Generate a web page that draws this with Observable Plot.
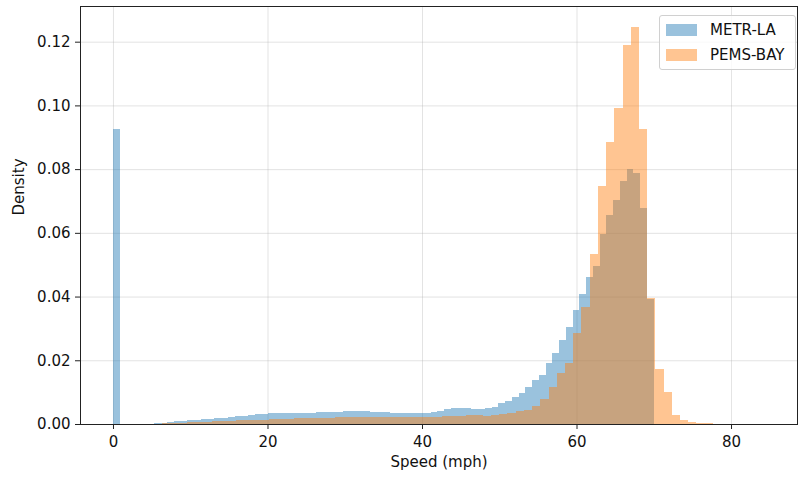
<!DOCTYPE html>
<html>
<head>
<meta charset="utf-8">
<script src="https://cdn.jsdelivr.net/npm/d3@7"></script>
<script src="https://cdn.jsdelivr.net/npm/@observablehq/plot@0.6"></script>
<style>
  body { margin: 0; background: #fff; }
  #wrap { position: relative; width: 798px; height: 478px; font-family: "DejaVu Sans", sans-serif; }
  #legend { position: absolute; left: 659px; top: 15px; width: 137px; height: 55px; box-sizing: border-box;
    border: 1px solid #d0d0d0; border-radius: 3px; background: rgba(255,255,255,0.8); font-size: 15px; color: #111; }
  .item { position: absolute; left: 6px; height: 14px; display: flex; align-items: center; }
  .sw { width: 31px; height: 12px; margin-right: 13px; }
</style>
</head>
<body>
<div id="wrap"></div>
<script>
// Series names and colours
const seriesNames = ["METR-LA", "PEMS-BAY"];
const seriesColors = ["#1f77b4", "#ff7f0e"];

// Histogram bin ranges (80 equal bins each)
const metrRange = [0, 70];
const pemsRange = [0, 85.1];

// Density per bin, METR-LA (80 bins over 0..70 mph)
const metrLA = [
  0.0925, 0, 0, 0, 0, 0.0001, 0.0002, 0.0004, 0.0006, 0.0008,
  0.0010, 0.0012, 0.0013, 0.0015, 0.0016, 0.0018, 0.0020, 0.0022, 0.0024, 0.0026,
  0.0028, 0.0030, 0.0032, 0.0033, 0.0034, 0.0034, 0.0035, 0.0035, 0.0036, 0.0036,
  0.0037, 0.0037, 0.0038, 0.0039, 0.0040, 0.0041, 0.0041, 0.0040, 0.0039, 0.0038,
  0.0037, 0.0036, 0.0034, 0.0033, 0.0033, 0.0033, 0.0034, 0.0037, 0.0041, 0.0046,
  0.0049, 0.0050, 0.0049, 0.0048, 0.0047, 0.0049, 0.0054, 0.0065, 0.0073, 0.0085,
  0.0098, 0.0117, 0.0138, 0.0153, 0.0190, 0.0223, 0.0265, 0.0306, 0.0358, 0.0408,
  0.0460, 0.0495, 0.0596, 0.0656, 0.0702, 0.0762, 0.0799, 0.0789, 0.0678, 0.0393
];

// Density per bin, PEMS-BAY (80 bins over 0..85.1 mph)
const pemsBay = [
  0, 0, 0, 0, 0, 0.0001, 0.0002, 0.0003, 0.0004, 0.0005,
  0.0006, 0.0007, 0.0008, 0.0009, 0.0010, 0.0011, 0.0012, 0.0013, 0.0014, 0.0015,
  0.0016, 0.0017, 0.0018, 0.0019, 0.0019, 0.0020, 0.0020, 0.0021, 0.0021, 0.0021,
  0.0021, 0.0021, 0.0021, 0.0021, 0.0021, 0.0021, 0.0021, 0.0021, 0.0022, 0.0023,
  0.0024, 0.0025, 0.0026, 0.0027, 0.0027, 0.0026, 0.0028, 0.0031, 0.0033, 0.0041,
  0.0044, 0.0056, 0.0080, 0.0117, 0.0160, 0.0192, 0.0285, 0.0367, 0.0533, 0.0747,
  0.0884, 0.0992, 0.1190, 0.1245, 0.0927, 0.0396, 0.0174, 0.0102, 0.0028, 0.0012,
  0.0007, 0.0004, 0.0002, 0.0001, 0.0001, 0, 0, 0, 0, 0.0001
];

// Tick values
const xTicks = [0, 20, 40, 60, 80];
const yTicks = [0, 0.02, 0.04, 0.06, 0.08, 0.10, 0.12];

function toBins(values, range) {
  const w = (range[1] - range[0]) / values.length;
  return values.map((v, i) => ({x1: range[0] + i * w, x2: range[0] + (i + 1) * w, y: v}));
}
const binsA = toBins(metrLA, metrRange);
const binsB = toBins(pemsBay, pemsRange);

const chart = Plot.plot({
  width: 798,
  height: 478,
  marginLeft: 80,
  marginRight: 1,
  marginTop: 6,
  marginBottom: 54,
  style: {fontFamily: "DejaVu Sans, sans-serif", fontSize: "15px", color: "#111", background: "#fff"},
  x: {domain: [-4.27, 88.54]},
  y: {domain: [0, 0.1312]},
  marks: [
    Plot.gridX(xTicks, {stroke: "#b0b0b0", strokeOpacity: 0.35, strokeWidth: 1}),
    Plot.gridY(yTicks, {stroke: "#b0b0b0", strokeOpacity: 0.35, strokeWidth: 1}),
    Plot.rectY(binsA, {x1: "x1", x2: "x2", y: "y", fill: seriesColors[0], fillOpacity: 0.45, shapeRendering: "crispEdges"}),
    Plot.rectY(binsB, {x1: "x1", x2: "x2", y: "y", fill: seriesColors[1], fillOpacity: 0.45, shapeRendering: "crispEdges"}),
    Plot.frame({stroke: "#222", strokeWidth: 1}),
    Plot.axisX(xTicks, {tickSize: 5, tickPadding: 7, label: null, stroke: "#222", fontSize: 15}),
    Plot.axisY(yTicks, {tickSize: 5, tickPadding: 5, label: null, tickFormat: d3.format(".2f"), stroke: "#222", fontSize: 15}),
    Plot.text(["Speed (mph)"], {frameAnchor: "bottom", dy: 42, fontSize: 15, fill: "#111"}),
    Plot.text(["Density"], {frameAnchor: "left", dx: -61, rotate: -90, fontSize: 15, fill: "#111"})
  ]
});

const wrap = document.getElementById("wrap");
wrap.appendChild(chart);

const legend = document.createElement("div");
legend.id = "legend";
seriesNames.forEach((name, i) => {
  const item = document.createElement("div");
  item.className = "item";
  item.style.top = (7 + i * 25) + "px";
  const sw = document.createElement("span");
  sw.className = "sw";
  sw.style.background = seriesColors[i];
  sw.style.opacity = 0.45;
  const label = document.createElement("span");
  label.textContent = name;
  item.appendChild(sw);
  item.appendChild(label);
  legend.appendChild(item);
});
wrap.appendChild(legend);
</script>
</body>
</html>
